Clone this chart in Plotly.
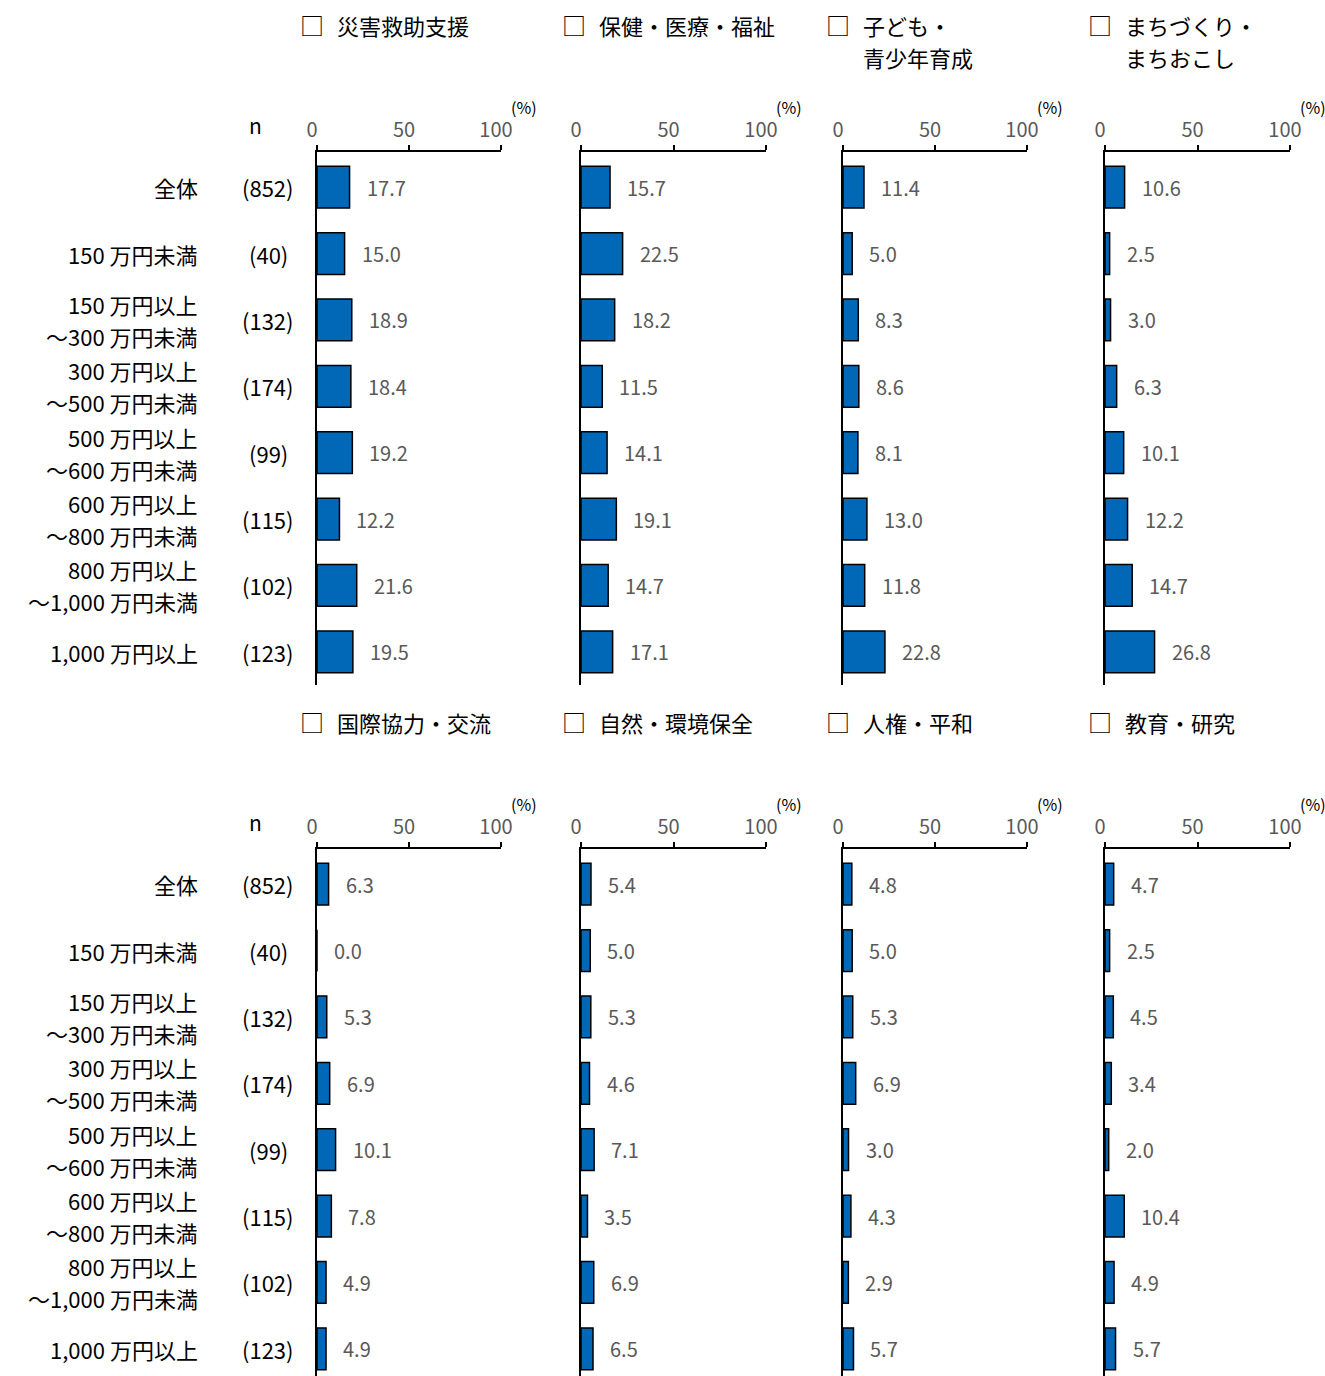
import plotly.graph_objects as go

categories = ["全体", "150 万円未満", "150 万円以上\n～300 万円未満", "300 万円以上\n～500 万円未満",
              "500 万円以上\n～600 万円未満", "600 万円以上\n～800 万円未満",
              "800 万円以上\n～1,000 万円未満", "1,000 万円以上"]
n_values = [852, 40, 132, 174, 99, 115, 102, 123]

panel_titles = [["災害救助支援"], ["保健・医療・福祉"], ["子ども・", "青少年育成"], ["まちづくり・", "まちおこし"],
                ["国際協力・交流"], ["自然・環境保全"], ["人権・平和"], ["教育・研究"]]

saigai = [17.7, 15.0, 18.9, 18.4, 19.2, 12.2, 21.6, 19.5]
hoken = [15.7, 22.5, 18.2, 11.5, 14.1, 19.1, 14.7, 17.1]
kodomo = [11.4, 5.0, 8.3, 8.6, 8.1, 13.0, 11.8, 22.8]
machi = [10.6, 2.5, 3.0, 6.3, 10.1, 12.2, 14.7, 26.8]
kokusai = [6.3, 0.0, 5.3, 6.9, 10.1, 7.8, 4.9, 4.9]
shizen = [5.4, 5.0, 5.3, 4.6, 7.1, 3.5, 6.9, 6.5]
jinken = [4.8, 5.0, 5.3, 6.9, 3.0, 4.3, 2.9, 5.7]
kyoiku = [4.7, 2.5, 4.5, 3.4, 2.0, 10.4, 4.9, 5.7]
series = [saigai, hoken, kodomo, machi, kokusai, shizen, jinken, kyoiku]

tick_vals = [0, 50, 100]

W, H = 1325, 1376
FONT = "Noto Sans CJK JP, Noto Sans, sans-serif"
BAR = "#0068B7"

def px(x):
    return x / W

def py(y):
    return 1 - y / H

col_x = [(317, 501), (581, 766), (843, 1027), (1105, 1290)]
row_y = [(152, 685), (849, 1376)]
row_range = [[7.5, -0.53], [7.41, -0.53]]
title_y = [25, 722]
TITLE_LS = 32
LABEL_LS = 32

fig = go.Figure()
layout = {}
annotations = []
idx = list(range(len(categories)))

for i, vals in enumerate(series):
    r, c = divmod(i, 4)
    k = i + 1
    xa = "x" if k == 1 else f"x{k}"
    ya = "y" if k == 1 else f"y{k}"
    fig.add_trace(go.Bar(
        x=vals, y=idx, orientation="h", xaxis=xa, yaxis=ya,
        marker=dict(color=BAR, line=dict(color="#000000", width=1.5)),
        width=0.63, showlegend=False, hoverinfo="x",
    ))
    x0, x1 = col_x[c]
    ytop, ybot = row_y[r]
    layout[f"xaxis{k}" if k > 1 else "xaxis"] = dict(
        domain=[px(x0), px(x1)], range=[0, 100], side="top", anchor=ya,
        showline=True, linecolor="#000000", linewidth=1.5, showgrid=False, zeroline=False,
        tickvals=tick_vals, ticks="outside", ticklen=5, tickcolor="#000000", tickwidth=1.5,
        ticklabelshift=-5, automargin=False,
        tickfont=dict(family=FONT, size=20, color="#595959"), fixedrange=True,
    )
    layout[f"yaxis{k}" if k > 1 else "yaxis"] = dict(
        domain=[py(ybot), py(ytop)], range=row_range[r], anchor=xa,
        showline=True, linecolor="#000000", linewidth=1.5, showgrid=False, zeroline=False,
        showticklabels=False, ticks="", fixedrange=True, automargin=False,
    )
    # value labels
    for j, v in enumerate(vals):
        annotations.append(dict(
            x=v, y=j, xref=xa, yref=ya, text=f"{v:.1f}", showarrow=False,
            xanchor="left", xshift=15, yanchor="middle",
            font=dict(family=FONT, size=20, color="#595959"),
        ))
    # (%) label
    annotations.append(dict(
        x=100, y=py(row_y[r][0] - 45), xref=xa, yref="paper", text="(%)", showarrow=False,
        xanchor="left", xshift=8, yanchor="middle",
        font=dict(family=FONT, size=16, color="#000000"),
    ))
    # panel title
    tx = [303, 565, 829, 1091][c]
    annotations.append(dict(
        x=px(tx - 5), y=py(title_y[r] - 1), xref="paper", yref="paper", text="□", showarrow=False,
        xanchor="left", yanchor="middle", font=dict(family=FONT, size=24, color="#000000"),
    ))
    for li, line in enumerate(panel_titles[i]):
        annotations.append(dict(
            x=px(tx + 32), y=py(title_y[r] + li * TITLE_LS), xref="paper", yref="paper",
            text=line, showarrow=False, align="left",
            xanchor="left", yanchor="middle", font=dict(family=FONT, size=22, color="#000000"),
        ))

# row labels, n values
for r in range(2):
    ya = "y" if r == 0 else "y5"
    for j, cat in enumerate(categories):
        lines = cat.split("\n")
        nl = len(lines)
        for li, line in enumerate(lines):
            off = (li - (nl - 1) / 2) * LABEL_LS
            annotations.append(dict(
                x=px(200), y=j, xref="paper", yref=ya, text=line, showarrow=False,
                xanchor="right", yanchor="middle", align="right", yshift=-off,
                font=dict(family=FONT, size=22, color="#000000"),
            ))
        annotations.append(dict(
            x=px(268), y=j, xref="paper", yref=ya, text=f"({n_values[j]})", showarrow=False,
            xanchor="center", yanchor="middle",
            font=dict(family=FONT, size=22, color="#000000"),
        ))
    annotations.append(dict(
        x=px(255), y=py(row_y[r][0] - 27), xref="paper", yref="paper", text="n", showarrow=False,
        xanchor="center", yanchor="middle", font=dict(family=FONT, size=21, color="#000000"),
    ))

fig.update_layout(
    width=W, height=H, margin=dict(l=0, r=0, t=0, b=0, pad=0, autoexpand=False),
    paper_bgcolor="#ffffff", plot_bgcolor="#ffffff", showlegend=False,
    barmode="overlay", annotations=annotations, **layout,
)

fig.write_html(
    "out.html",
    config={"responsive": False, "displayModeBar": False},
    post_script="document.body.style.margin='0px';document.body.style.overflow='hidden';",
)
